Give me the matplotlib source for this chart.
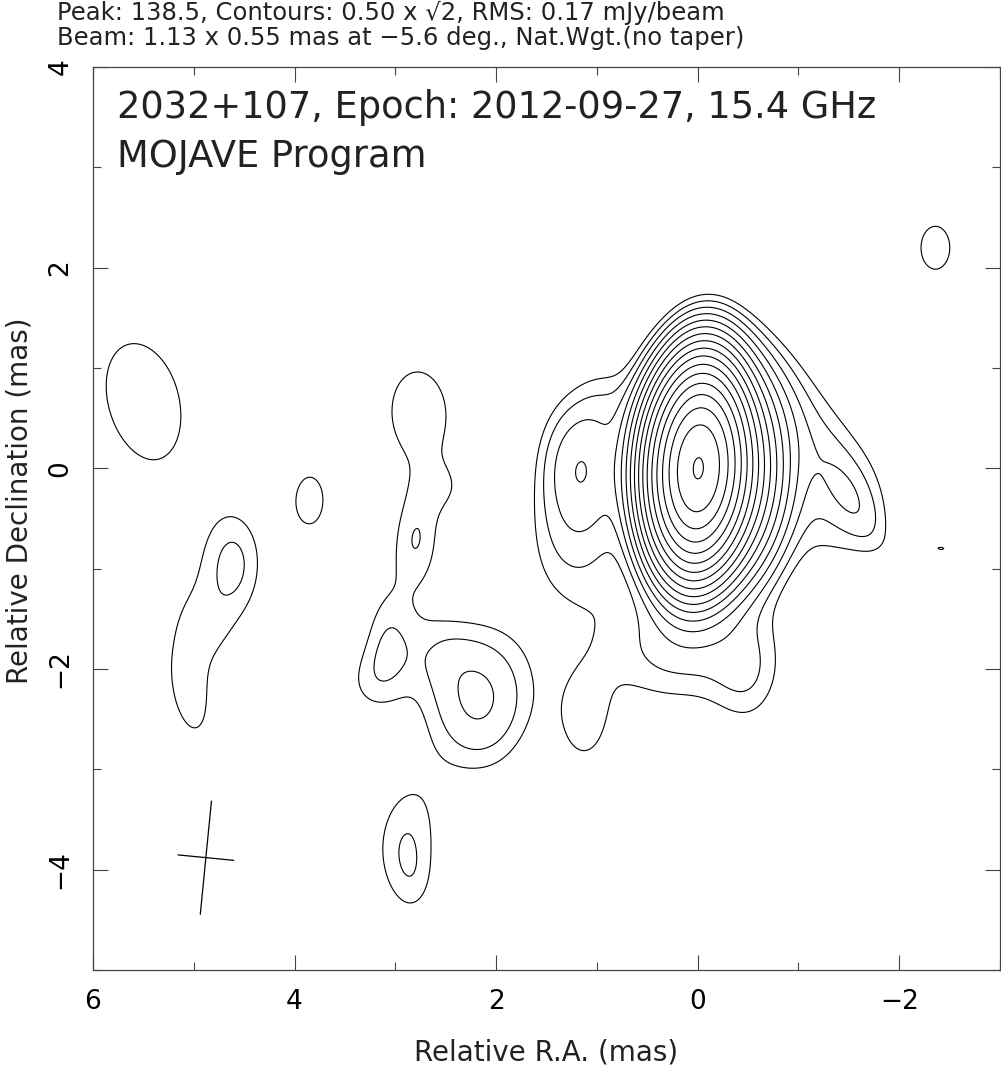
import numpy as np
import matplotlib
matplotlib.use("Agg")
import matplotlib.pyplot as plt
from matplotlib.ticker import MultipleLocator

# ---- map header values ----
peak_flux = 138.5
base_level = 0.50
rms = 0.17
beam_maj, beam_min, beam_pa = 1.13, 0.55, -5.6
beam_ra, beam_dec = 4.88, -3.88
source = "2032+107"
epoch = "2012-09-27"
freq = "15.4 GHz"

# ---- brightness components (RA mas, Dec mas, peak mJy/beam, FWHM maj, FWHM min, PA deg) ----
comp_ra   = [0.00, -0.30, 0.35, -0.10, 1.17, 1.25, 0.25, -0.50, -1.00, -1.45, -1.55, 1.12, 0.90,
             2.77, 2.79, 3.00, 3.08, 3.25, 2.50, 2.18, 2.62,
             2.90, 2.80,
             5.50, 3.85, 4.60, 4.85, 5.05, -2.36, -2.43]
comp_dec  = [0.00, -0.02, 0.00, -0.30, 0.05, -0.80, -1.85, -2.10, 0.50, -0.40, -0.35, -2.55, 0.70,
             0.55, -0.70, -1.15, -1.70, -2.15, -0.22, -2.30, -1.80,
             -3.72, -4.20,
             0.68, -0.32, -0.95, -1.55, -2.20, 2.20, -0.80]
comp_peak = [122.0, 12.0, 5.0, 0.30, 1.15, 0.50, 0.60, 0.40, 0.50, 0.45, 0.35, 0.55, 0.25,
             0.63, 0.56, 0.22, 0.48, 0.45, 0.25, 1.05, 0.28,
             0.67, 0.22,
             0.70, 0.62, 0.73, 0.12, 0.55, 0.62, 0.465]
comp_maj  = [1.18, 1.30, 1.20, 3.20, 1.10, 1.20, 1.50, 1.00, 1.60, 1.10, 1.00, 0.90, 0.70,
             1.40, 0.80, 0.80, 0.80, 0.70, 0.50, 1.30, 0.70,
             1.20, 0.70,
             1.65, 0.80, 1.10, 0.80, 2.10, 0.75, 0.50]
comp_min  = [0.54, 0.70, 0.50, 2.40, 0.65, 0.90, 1.00, 0.60, 0.80, 0.90, 0.35, 0.50, 0.50,
             0.90, 0.45, 0.70, 0.45, 0.60, 0.50, 0.95, 0.60,
             0.65, 0.40,
             1.00, 0.45, 0.60, 0.50, 0.80, 0.50, 0.20]
comp_pa   = [-3.0, 0.0, 0.0, 0.0, 0.0, 0.0, 90.0, 0.0, 36.0, 0.0, 30.0, 0.0, 0.0,
             3.0, 0.0, 0.0, 0.0, 0.0, 0.0, 0.0, 0.0,
             -5.0, 0.0,
             15.0, 0.0, 0.0, 30.0, 10.0, 0.0, 85.0]

fig = plt.figure(figsize=(10.01, 10.79), dpi=100)
ax = fig.add_axes([93 / 1001, 109 / 1079, 907 / 1001, 903 / 1079])

ra = np.linspace(6, -3, 901)
dec = np.linspace(-5, 4, 901)
RA, DEC = np.meshgrid(ra, dec)
field = np.zeros_like(RA)
for r0, d0, pk, mj, mn, pa in zip(comp_ra, comp_dec, comp_peak, comp_maj, comp_min, comp_pa):
    th = np.deg2rad(pa)
    dx, dy = RA - r0, DEC - d0
    u = dx * np.sin(th) + dy * np.cos(th)
    v = dx * np.cos(th) - dy * np.sin(th)
    field += pk * np.exp(-4 * np.log(2) * ((u / mj) ** 2 + (v / mn) ** 2))

levels = base_level * np.sqrt(2) ** np.arange(17)
ax.contour(RA, DEC, field, levels=levels, colors="black", linewidths=0.8)

# beam cross
th = np.deg2rad(beam_pa)
ax.plot([beam_ra - 0.5 * beam_maj * np.sin(th), beam_ra + 0.5 * beam_maj * np.sin(th)],
        [beam_dec - 0.5 * beam_maj * np.cos(th), beam_dec + 0.5 * beam_maj * np.cos(th)],
        color="black", lw=0.9)
ax.plot([beam_ra - 0.5 * beam_min * np.cos(th), beam_ra + 0.5 * beam_min * np.cos(th)],
        [beam_dec + 0.5 * beam_min * np.sin(th), beam_dec - 0.5 * beam_min * np.sin(th)],
        color="black", lw=0.9)

ax.set_xlim(6, -3)
ax.set_ylim(-5, 4)
ax.xaxis.set_major_locator(MultipleLocator(2))
ax.xaxis.set_minor_locator(MultipleLocator(1))
ax.yaxis.set_major_locator(MultipleLocator(2))
ax.yaxis.set_minor_locator(MultipleLocator(1))
ax.tick_params(which="both", direction="in", top=True, right=True, color="#444444", width=0.8)
ax.tick_params(which="major", length=11)
ax.tick_params(which="minor", length=6)
ax.tick_params(axis="x", which="major", labelsize=19, pad=14)
ax.tick_params(axis="y", which="major", labelsize=19, pad=14)
for lab in ax.get_yticklabels():
    lab.set_rotation(90)
    lab.set_va("center")
for sp in ax.spines.values():
    sp.set_color("#444444")
    sp.set_linewidth(0.9)

ax.set_xlabel("Relative R.A. (mas)", fontsize=20, color="#222222")
ax.xaxis.set_label_coords(0.5, -0.076)
ax.set_ylabel("Relative Declination (mas)", fontsize=20, color="#222222")
ax.yaxis.set_label_coords(-0.066, 0.52)

fig.text(57 / 1001, 1 - 20 / 1079,
         f"Peak: {peak_flux}, Contours: {base_level:.2f} x \u221a2, RMS: {rms} mJy/beam",
         fontsize=17.5, va="baseline", ha="left", color="#222222")
fig.text(57 / 1001, 1 - 45 / 1079,
         f"Beam: {beam_maj} x {beam_min} mas at \u2212{abs(beam_pa)} deg., Nat.Wgt.(no taper)",
         fontsize=17.5, va="baseline", ha="left", color="#222222")
fig.text(117 / 1001, 1 - 118 / 1079, f"{source}, Epoch: {epoch}, {freq}",
         fontsize=26.5, va="baseline", ha="left", color="#222222")
fig.text(117 / 1001, 1 - 167 / 1079, "MOJAVE Program",
         fontsize=26.5, va="baseline", ha="left", color="#222222")

fig.savefig("out.png", dpi=100)
